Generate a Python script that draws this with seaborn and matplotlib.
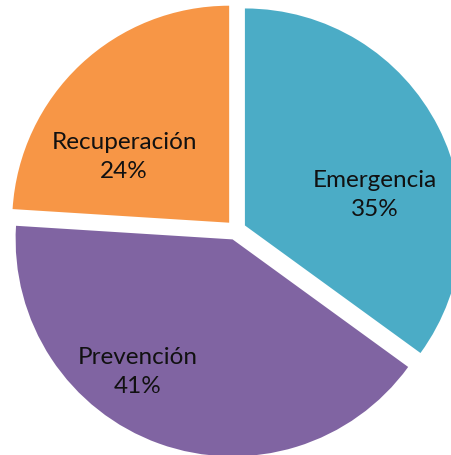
import matplotlib
matplotlib.use("Agg")
import matplotlib.pyplot as plt
import seaborn as sns

# Data
categories = ['Emergencia', 'Prevención', 'Recuperación']
shares = [35, 41, 24]
slice_colors = ['#4BACC6', '#8064A2', '#F79646']

sns.set_theme(style='white')
plt.rcParams['font.family'] = ['Lato', 'DejaVu Sans']

fig = plt.figure(figsize=(4.51, 4.55), dpi=100)
ax = fig.add_axes([0, 0, 1, 1])

# pixel-like coordinates so the pie can run off the right edge like the original
radius = 217
center = (236, 225)
# explode is in data units here (px)
wedges, _ = ax.pie(shares, colors=sns.color_palette(slice_colors), startangle=90,
                   counterclock=False, radius=radius, center=center,
                   explode=[10] * 3, wedgeprops=dict(linewidth=0))

# label spots (offset from the pie centre, in px)
label_offsets = [(139, 35), (-98, -142), (-112, 73)]
for name, val, (dx, dy) in zip(categories, shares, label_offsets):
    ax.text(center[0] + dx, center[1] + dy, f'{name}\n{val}%', ha='center', va='center',
            fontsize=17.5, color='#111111', linespacing=1.5)

ax.set_xlim(0, 451)
ax.set_ylim(0, 455)
ax.set_aspect('equal')
ax.axis('off')

fig.savefig('out.png', dpi=100)
